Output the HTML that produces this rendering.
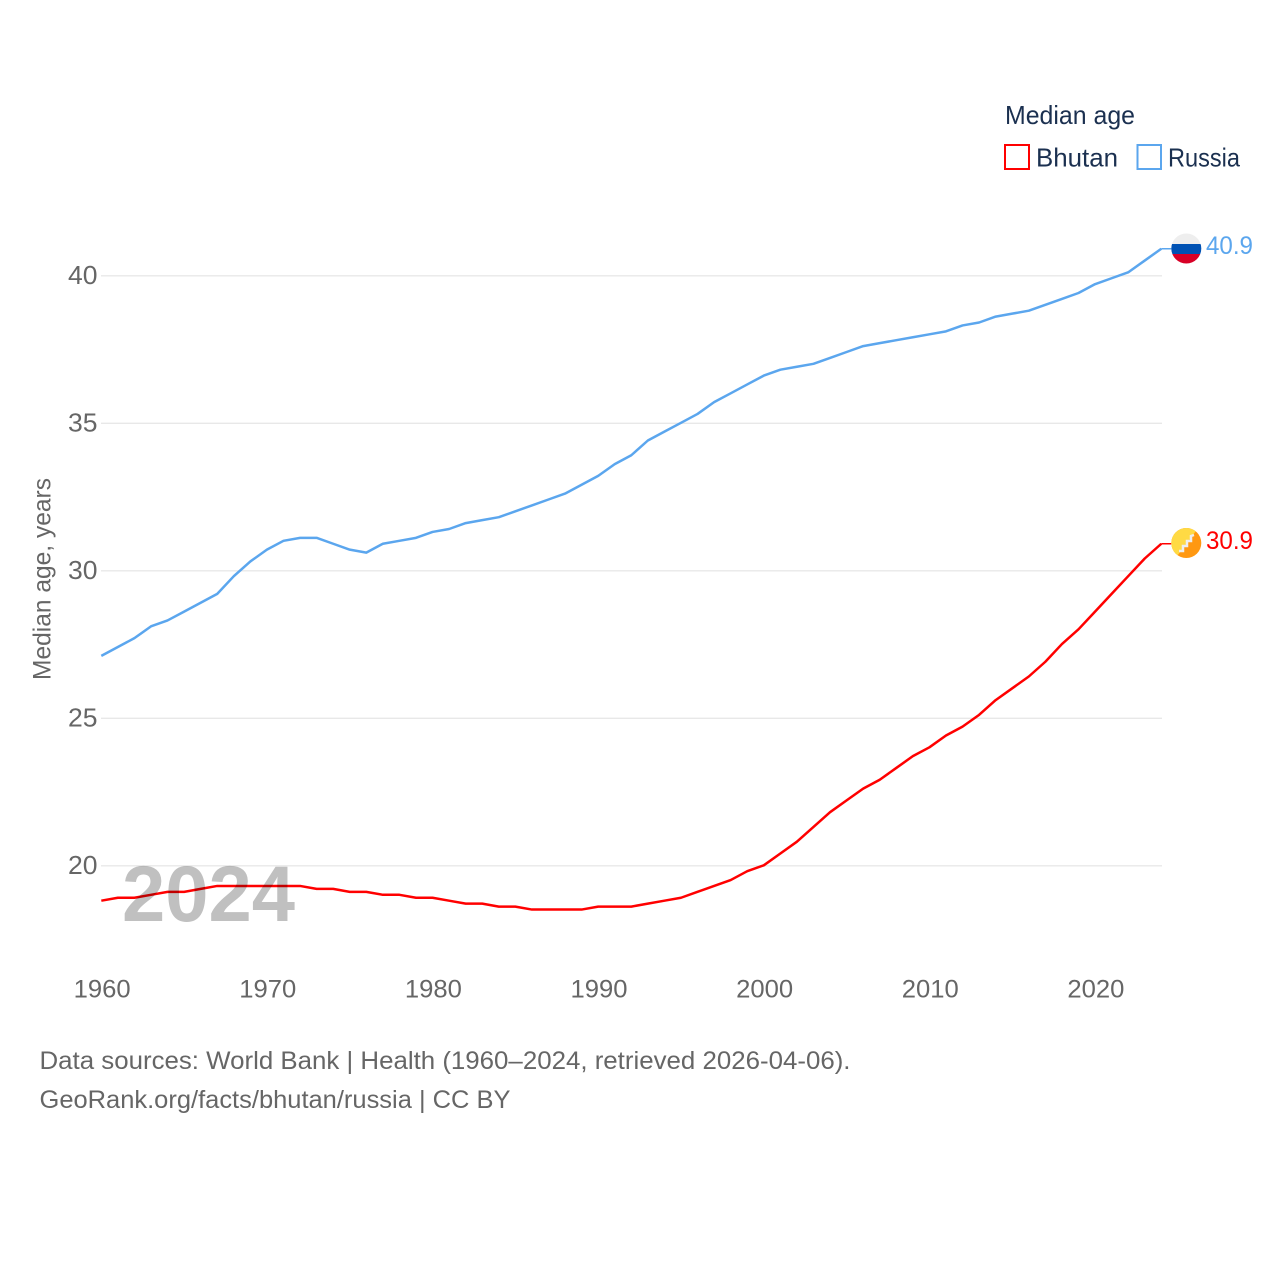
<!DOCTYPE html>
<html lang="en">
<head>
<meta charset="utf-8">
<title>Median age: Bhutan and Russia</title>
<style>
html,body{margin:0;padding:0;background:#fff}
svg{display:block}
text{font-family:"Liberation Sans",sans-serif}
#watermark{mix-blend-mode:multiply}
</style>
</head>
<body>
<svg id="chart" width="1280" height="1280" viewBox="0 0 1280 1280" xmlns="http://www.w3.org/2000/svg">
  <defs>
    <clipPath id="flag-clip-russia"><circle cx="1186.3" cy="248.5" r="15"></circle></clipPath>
    <clipPath id="flag-clip-bhutan"><circle cx="1186.3" cy="543" r="15"></circle></clipPath>
  </defs>
  <g id="grid"></g>
  <g id="yticks"></g>
  <g id="xticks"></g>
  <text transform="translate(50.5,680) rotate(-90)" font-size="25" fill="#666" textLength="202" lengthAdjust="spacingAndGlyphs">Median age, years</text>
  <g id="series"></g>
  <text id="watermark" x="122" y="921" font-size="79" font-weight="700" fill="#c0c0c0" textLength="173" lengthAdjust="spacingAndGlyphs">2024</text>

  <g clip-path="url(#flag-clip-russia)">
    <rect x="1171" y="233" width="31" height="11" fill="#eeeeee"></rect>
    <rect x="1171" y="244" width="31" height="10" fill="#0052b4"></rect>
    <rect x="1171" y="254" width="31" height="11" fill="#d80027"></rect>
  </g>
  <g clip-path="url(#flag-clip-bhutan)">
    <rect x="1171" y="528" width="31" height="31" fill="#ff9811"></rect>
    <polygon points="1171,528 1202,528 1171,559" fill="#ffda44" transform="rotate(-8 1186 543)"></polygon>
    <path d="M1179 551 L1183 551 L1183 546 L1187 546 L1187 541 L1191 541 L1191 536 L1194 535" fill="none" stroke="#eeeeee" stroke-width="2.5"></path>
  </g>
  <text id="end-russia" x="1206" y="254" font-size="25" fill="#5ba6ee" textLength="47" lengthAdjust="spacingAndGlyphs"></text>
  <text id="end-bhutan" x="1206" y="549" font-size="25" fill="#ff0000" textLength="47" lengthAdjust="spacingAndGlyphs"></text>

  <g>
    <text x="1005" y="124" font-size="26" fill="#1b3050" textLength="130" lengthAdjust="spacingAndGlyphs">Median age</text>
    <rect x="1005" y="145" width="24" height="24" fill="#fff" stroke="#ff0000" stroke-width="2"></rect>
    <text x="1036" y="166.5" font-size="26" fill="#1b3050" textLength="82" lengthAdjust="spacingAndGlyphs">Bhutan</text>
    <rect x="1137.5" y="145" width="23.5" height="24" fill="#fff" stroke="#5ba6ee" stroke-width="2"></rect>
    <text x="1168" y="166.5" font-size="26" fill="#1b3050" textLength="72" lengthAdjust="spacingAndGlyphs">Russia</text>
  </g>

  <text x="39.5" y="1069" font-size="25" fill="#666" textLength="811" lengthAdjust="spacingAndGlyphs">Data sources: World Bank | Health (1960–2024, retrieved 2026-04-06).</text>
  <text x="39.5" y="1108" font-size="25" fill="#666" textLength="471" lengthAdjust="spacingAndGlyphs">GeoRank.org/facts/bhutan/russia | CC BY</text>
</svg>
<script>
const firstYear = 1960;
const xTickLabels = [1960, 1970, 1980, 1990, 2000, 2010, 2020];
const yTickLabels = [20, 25, 30, 35, 40];
const russiaValues = [27.1,27.4,27.7,28.1,28.3,28.6,28.9,29.2,29.8,30.3,30.7,31.0,31.1,31.1,30.9,30.7,30.6,30.9,31.0,31.1,31.3,31.4,31.6,31.7,31.8,32.0,32.2,32.4,32.6,32.9,33.2,33.6,33.9,34.4,34.7,35.0,35.3,35.7,36.0,36.3,36.6,36.8,36.9,37.0,37.2,37.4,37.6,37.7,37.8,37.9,38.0,38.1,38.3,38.4,38.6,38.7,38.8,39.0,39.2,39.4,39.7,39.9,40.1,40.5,40.9];
const bhutanValues = [18.8,18.9,18.9,19.0,19.1,19.1,19.2,19.3,19.3,19.3,19.3,19.3,19.3,19.2,19.2,19.1,19.1,19.0,19.0,18.9,18.9,18.8,18.7,18.7,18.6,18.6,18.5,18.5,18.5,18.5,18.6,18.6,18.6,18.7,18.8,18.9,19.1,19.3,19.5,19.8,20.0,20.4,20.8,21.3,21.8,22.2,22.6,22.9,23.3,23.7,24.0,24.4,24.7,25.1,25.6,26.0,26.4,26.9,27.5,28.0,28.6,29.2,29.8,30.4,30.9];

const NS = 'http://www.w3.org/2000/svg';
const xScale = year => 101.3 + (year - 1960) * (1060 / 64);
const yScale = value => 865.3 - (value - 20) * 29.5;

const gridGroup = document.getElementById('grid');
const yTickGroup = document.getElementById('yticks');
const xTickGroup = document.getElementById('xticks');
const seriesGroup = document.getElementById('series');

yTickLabels.forEach(tick => {
  const line = document.createElementNS(NS, 'line');
  
  
  line.setAttribute('x1', 101);
  line.setAttribute('x2', 1162);
  line.setAttribute('y1', yScale(tick) + 0.5);
  line.setAttribute('y2', yScale(tick) + 0.5);
  line.setAttribute('stroke', '#e8e8e8');
  line.setAttribute('stroke-width', '1.3');
  gridGroup.appendChild(line);

  const label = document.createElementNS(NS, 'text');
  
  
  label.setAttribute('x', 68);
  label.setAttribute('y', yScale(tick) + 8.5);
  label.setAttribute('font-size', '26');
  label.setAttribute('fill', '#666');
  label.setAttribute('textLength', '29.5');
  label.setAttribute('lengthAdjust', 'spacingAndGlyphs');
  label.textContent = tick;
  yTickGroup.appendChild(label);
});

xTickLabels.forEach(tick => {
  const label = document.createElementNS(NS, 'text');
  
  
  label.setAttribute('x', xScale(tick) + 0.9);
  label.setAttribute('y', 997.5);
  label.setAttribute('text-anchor', 'middle');
  label.setAttribute('font-size', '25');
  label.setAttribute('fill', '#666');
  label.setAttribute('textLength', '57');
  label.setAttribute('lengthAdjust', 'spacingAndGlyphs');
  label.textContent = tick;
  xTickGroup.appendChild(label);
});

function drawSeries(values, color, name) {
  const last = values.length - 1;
  const pts = values.map((v, i) => xScale(firstYear + i).toFixed(2) + ',' + yScale(v).toFixed(2));
  const line = document.createElementNS(NS, 'polyline');
  
  
  line.setAttribute('points', pts.join(' '));
  line.setAttribute('fill', 'none');
  line.setAttribute('stroke', color);
  line.setAttribute('stroke-width', '2.5');
  line.setAttribute('stroke-linejoin', 'round');
  seriesGroup.appendChild(line);

  const stub = document.createElementNS(NS, 'line');
  
  
  stub.setAttribute('x1', xScale(firstYear + last));
  stub.setAttribute('x2', xScale(firstYear + last) + 10);
  stub.setAttribute('y1', yScale(values[last]));
  stub.setAttribute('y2', yScale(values[last]));
  stub.setAttribute('stroke', color);
  stub.setAttribute('stroke-width', '1.5');
  seriesGroup.appendChild(stub);
}
drawSeries(russiaValues, '#5ba6ee', 'russia');
drawSeries(bhutanValues, '#ff0000', 'bhutan');

document.getElementById('end-russia').textContent = russiaValues[russiaValues.length - 1].toFixed(1);
document.getElementById('end-bhutan').textContent = bhutanValues[bhutanValues.length - 1].toFixed(1);
</script>
</body>
</html>
